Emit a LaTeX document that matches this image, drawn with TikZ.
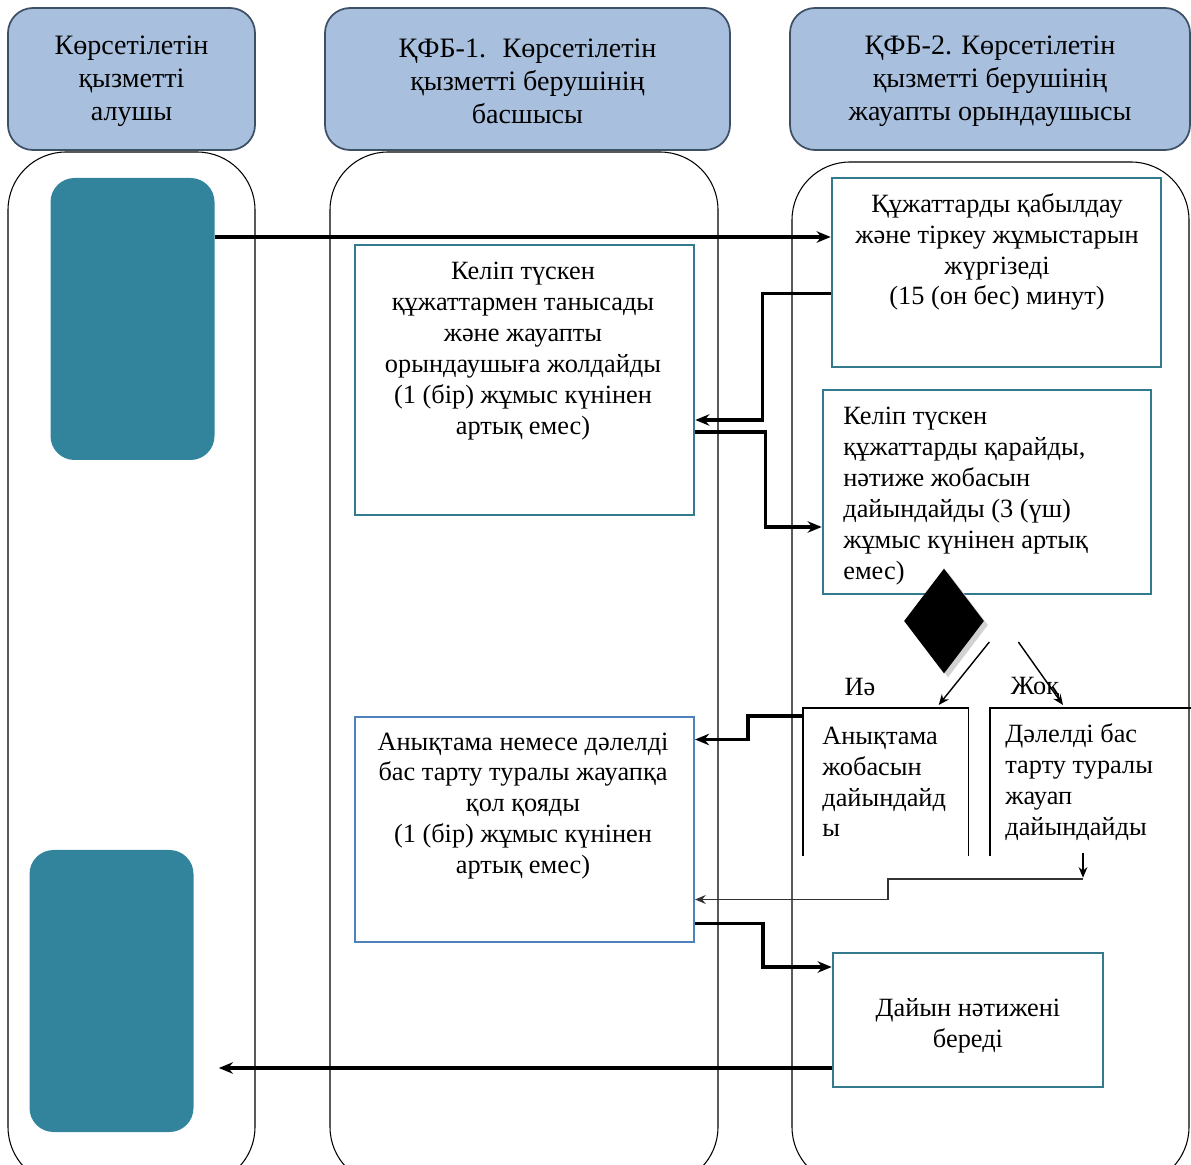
\documentclass[tikz,border=0pt]{standalone}
\usepackage{fontspec}
\setmainfont{Liberation Serif}
\usetikzlibrary{shapes.geometric,arrows.meta,calc}
\newdimen\pu \pu=0.02cm
\definecolor{headfill}{RGB}{168,192,222}
\definecolor{headline}{RGB}{62,80,102}
\definecolor{actorfill}{RGB}{49,132,155}
\definecolor{boxline}{RGB}{50,122,140}
\definecolor{signline}{RGB}{79,129,189}

\begin{document}
\begin{tikzpicture}[x=0.02cm,y=-0.02cm,
  head/.style={draw=headline,fill=headfill,rounded corners=25\pu,line width=1pt,
               minimum height=142\pu,align=center,font=\fontsize{16}{18.8}\selectfont},
  lane/.style={draw=black,line width=0.6pt,rounded corners=58\pu},
  actor/.style={fill=actorfill,rounded corners=24\pu,minimum width=164\pu,minimum height=282\pu},
  stepbox/.style={draw=boxline,line width=1.5pt,fill=white},
  txt/.style={inner sep=0pt,font=\fontsize{15}{17.6}\selectfont},
  flow/.style={-{Stealth[length=8pt,width=6.5pt]},line width=2pt},
  thinflow/.style={-{Stealth[length=6pt,width=5pt]},line width=0.8pt}]

  \useasboundingbox (0,0) rectangle (1191,1165);
  \clip (0,0) rectangle (1191,1165);

  % headers
  \node[head,minimum width=247\pu] (h1) at (131.5,79) {\strut Көрсетілетін\\қызметті\\алушы};
  \node[head,minimum width=405\pu] (h2) at (527.5,79) {\strut ҚФБ-1.~ Көрсетілетін\\қызметті берушінің\\басшысы};
  \node[head,minimum width=400\pu] (h3) at (990,79) {\strut ҚФБ-2. Көрсетілетін\\қызметті берушінің\\жауапты орындаушысы};

  % lanes
  \node[lane,minimum width=247\pu,minimum height=1033\pu] (l1) at (131.5,668.5) {};
  \node[lane,minimum width=388\pu,minimum height=1033\pu] (l2) at (524,668.5) {};
  \node[lane,minimum width=397\pu,minimum height=1023\pu] (l3) at (990.5,673.5) {};

  \node[actor] (t1) at (132.5,319) {};
  \node[actor] (t2) at (111.5,991) {};

  % steps
  \node[stepbox,minimum width=329\pu,minimum height=189\pu] (b1) at (996.5,272.5) {};
  \node[txt,align=center] (b1txt) at (997,252) {Құжаттарды қабылдау\\және тіркеу жұмыстарын\\жүргізеді\\(15 (он бес) минут)};

  \node[stepbox,minimum width=339\pu,minimum height=270\pu] (b2) at (524.5,380) {};
  \node[txt,align=center] (b2txt) at (523,351) {Келіп түскен\\құжаттармен танысады\\және жауапты\\орындаушыға жолдайды\\(1 (бір) жұмыс күнінен\\артық емес)};

  \node[stepbox,minimum width=328\pu,minimum height=204\pu] (b3) at (987,492) {};
  \node[txt,align=flush left,anchor=west] (b3txt) at (843,496) {Келіп түскен\\құжаттарды қарайды,\\нәтиже жобасын\\дайындайды (3 (үш)\\жұмыс күнінен артық\\емес)};

  \node[diamond,fill=gray!35,inner sep=0pt,minimum width=80\pu,minimum height=105\pu] at (948,625) {};
  \node[diamond,fill=black,inner sep=0pt,minimum width=80\pu,minimum height=105\pu] (dia) at (944,621) {};

  \node[txt,anchor=north west,minimum width=165\pu,minimum height=147\pu,
        text width=127\pu,align=flush left,inner xsep=19\pu] (b4) at (803,708)
        {Анықтама\\жобасын\\дайындайд\\ы};
  \node[txt,anchor=north west,minimum width=201\pu,minimum height=147\pu,
        text width=171\pu,align=flush left,inner xsep=15\pu] (b5) at (990,708)
        {Дәлелді бас\\тарту туралы\\жауап\\дайындайды};
  \draw[line width=0.8pt] (b4.south west) -- (b4.north west) -- (b4.north east) -- (b4.south east);
  \draw[line width=0.8pt] (b5.south west) -- (b5.north west) -- (b5.north east);
  \node[txt] (lblyes) at (860,687) {Иә};
  \node[txt] (lblno) at (1035,688) {Жоқ};

  \node[draw=signline,line width=1.2pt,fill=white,minimum width=339\pu,minimum height=225\pu] (b6) at (524.5,829.5) {};
  \node[txt,align=center] (b6txt) at (523,806) {Анықтама немесе дәлелді\\бас тарту туралы жауапқа\\қол қояды\\(1 (бір) жұмыс күнінен\\артық емес)};

  \node[stepbox,minimum width=270\pu,minimum height=134\pu] (b7) at (968,1020) {};
  \node[txt,align=center] (b7txt) at (968,1026) {Дайын нәтижені\\береді};

  % connectors
  \draw[flow] ($(t1.east)+(0,-82)$) -- ($(b1.west)+(0,-35.5)$);
  \draw[flow] ($(b1.west)+(0,21)$) -- ++(-68,0) |- ($(b2.east)+(0,40)$);
  \draw[flow] ($(b2.east)+(0,52)$) -- ++(70,0) |- ($(b3.west)+(0,35)$);
  \draw[thinflow] ($(dia.east)+(5,21)$) -- ($(b4.north east)+(-30,-3)$);
  \draw[thinflow] ($(dia.east)+(34,21)$) -- ($(b5.north west)+(73,-3)$);
  \draw[flow] ($(b4.north west)+(0,8)$) -- ++(-55,0) |- ($(b6.east)+(0,-90)$);
  \draw[thinflow] ($(b5.south west)+(93,-3)$) -- ++(0,25);
  \draw[thinflow,draw=black!80,line width=1pt] ($(b5.south west)+(93,23)$) -- ++(-195,0) |- ($(b6.east)+(0,70)$);
  \draw[flow] ($(b6.east)+(0,94)$) -- ++(68,0) |- ($(b7.west)+(0,-53)$);
  \draw[flow] ($(b7.west)+(0,48)$) -- ($(t2.east)+(25,77)$);
\end{tikzpicture}
\end{document}
